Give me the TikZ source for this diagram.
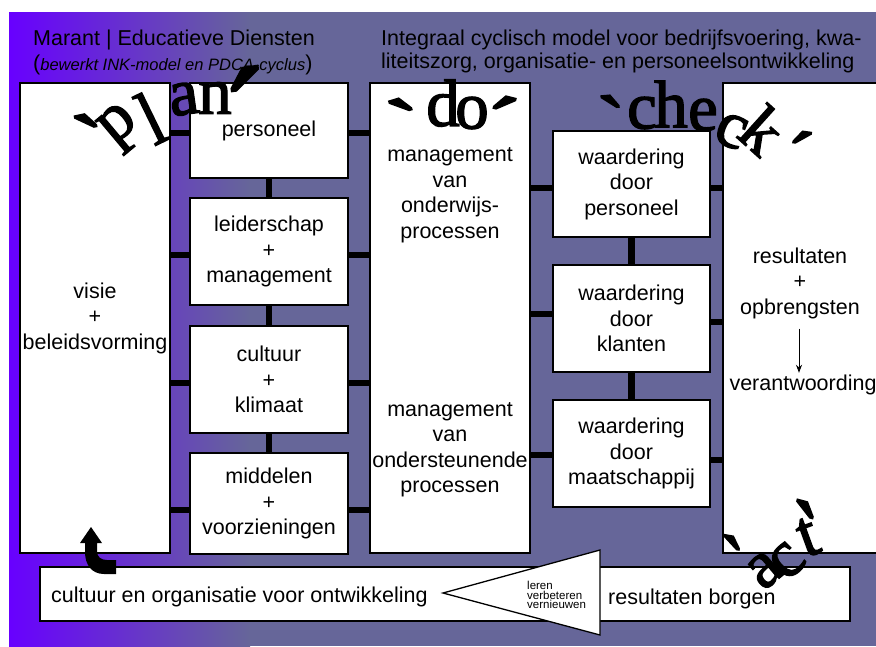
\documentclass[tikz,border=0pt]{standalone}
\usepackage{fontspec}
\setmainfont{Liberation Sans}
\newfontfamily\waf[FakeBold=2]{Liberation Serif}
\usetikzlibrary{arrows.meta,calc}
\definecolor{slate}{RGB}{102,102,153}
\definecolor{violetbg}{RGB}{104,0,255}
\newcommand\mkgrave{\raisebox{-0.59em}[0.09em][0.09em]{\char"60}}
\newcommand\mkacute{\raisebox{-0.59em}[0.09em][0.09em]{\char"B4}}
\tikzset{
 box/.style={draw=black,line width=1.3pt,fill=white,inner sep=0pt,align=center,font=\fontsize{21.5}{25.5}\selectfont},
 txt/.style={inner sep=0pt,align=center,font=\fontsize{21.5}{25.5}\selectfont},
 conn/.style={line width=6.5pt,black},
 wa/.style={inner sep=0pt,font=\fontsize{67}{67}\selectfont\waf},
 mk/.style={inner sep=0pt,font=\fontsize{64}{64}\selectfont\waf},
}
\begin{document}
\begin{tikzpicture}[x=1pt,y=-1pt]
\useasboundingbox (0,0) rectangle (876,646);
\fill[white] (0,0) rectangle (876,646);
\shade[left color=violetbg,right color=slate] (9,12) rectangle (250,646);
\fill[slate] (249.5,12) rectangle (876,646);

% headers
\node[txt,anchor=base west] (h1) at (33,45) {Marant | Educatieve Diensten};
\node[txt,anchor=base west] (h2) at (33,70.5) {(\fontsize{16.5}{20}\selectfont\itshape bewerkt INK-model en PDCA-cyclus\/\fontsize{21.5}{25.5}\selectfont\upshape)};
\node[txt,anchor=base west,align=left,font=\fontsize{21.5}{23.5}\selectfont] (h3) at (381,68.5) {Integraal cyclisch model voor bedrijfsvoering, kwa-\\liteitszorg, organisatie- en personeelsontwikkeling};

% boxes
\node[box,minimum width=150,minimum height=470] (visie) at (95,318) {visie\\+\\beleidsvorming};
\node[box,minimum width=158,minimum height=95] (pers) at (269,130.5) {personeel};
\node[box,minimum width=158,minimum height=107] (leid) at (269,251.5) {leiderschap\\+\\management};
\node[box,minimum width=158,minimum height=107] (cult) at (269,379.5) {cultuur\\+\\klimaat};
\node[box,minimum width=158,minimum height=101] (midd) at (269,503.5) {middelen\\+\\voorzieningen};
\node[box,minimum width=160,minimum height=470] (do) at (450,318) {};
\node[txt] (do1) at (450,195.5) {management\\van\\onderwijs-\\processen};
\node[txt] (do2) at (450,450) {management\\van\\ondersteunende\\processen};
\node[box,minimum width=157,minimum height=106] (wp) at (631.5,184) {waardering\\door\\personeel};
\node[box,minimum width=157,minimum height=107] (wk) at (631.5,318.5) {waardering\\door\\klanten};
\node[box,minimum width=157,minimum height=107] (wm) at (631.5,453.5) {waardering\\door\\maatschappij};
\node[box,minimum width=160,minimum height=470] (res) at (803,318) {};
\node[txt] (res1) at (800,283) {resultaten\\+\\opbrengsten};
\node[txt] (res2) at (803,385) {verantwoording};
\draw[line width=0.8pt,-{Stealth[length=8pt,width=6pt]},shorten <=10pt,shorten >=2pt] (res1.south -| 799,0) -- (res2.north -| 799,0);

% connector rows
\coordinate (r1) at (0,133);
\coordinate (r2) at (0,255);
\coordinate (r3) at (0,383);
\coordinate (r4) at (0,510);
\foreach \r/\b in {r1/pers,r2/leid,r3/cult,r4/midd}{
  \draw[conn] (visie.east |- \r) -- (\b.west |- \r);
  \draw[conn] (\b.east |- \r) -- (do.west |- \r);
}
\draw[conn] (pers.south) -- (leid.north);
\draw[conn] (leid.south) -- (cult.north);
\draw[conn] (cult.south) -- (midd.north);
\coordinate (c1l) at (0,188);
\coordinate (c2l) at (0,314);
\coordinate (c3l) at (0,455);
\coordinate (c1r) at (0,188);
\coordinate (c2r) at (0,322);
\coordinate (c3r) at (0,460);
\foreach \l/\rr/\b in {c1l/c1r/wp,c2l/c2r/wk,c3l/c3r/wm}{
  \draw[conn] (do.east |- \l) -- (\b.west |- \l);
  \draw[conn] (\b.east |- \rr) -- (res.west |- \rr);
}
\draw[conn] (wp.south) -- (wk.north);
\draw[conn] (wk.south) -- (wm.north);

% bottom bar
\node[box,minimum width=810,minimum height=54] (bar) at (445,594) {};
\node[txt,anchor=base west] (b1) at (51,602) {cultuur en organisatie voor ontwikkeling};
\node[txt,anchor=base west] (b2) at (608,604) {resultaten borgen};
\coordinate (t1) at (443,593);
\coordinate (t2) at (600,550);
\coordinate (t3) at (600,635);
\filldraw[fill=white,draw=black,line width=1.3pt] (t1) -- (t2) -- (t3) -- cycle;
\node[inner sep=0pt,align=left,anchor=west,font=\fontsize{11.5}{9.8}\selectfont] (tri) at (527,595) {leren\\verbeteren\\vernieuwen};

% curved block arrow
\fill[black] (91,527) -- (102,543) -- (97,543) -- (97,551) .. controls (97,557) and (101,560) .. (107,560) -- (116,560) -- (116,574) -- (104,574) .. controls (92,574) and (85,565) .. (85,552) -- (85,543) -- (80,543) -- cycle;

% 'plan'
\node[mk,rotate=12,scale=1.5] (pq1) at (87,124) {\mkgrave};
\node[wa,rotate=40] (pp) at (121,128) {p};
\node[wa,rotate=26,yscale=1.15] (pl) at (151,118) {l};
\node[wa,rotate=8] (pa) at (184,99) {a};
\node[wa] (pn) at (215,98) {n};
\node[mk,rotate=8,scale=2.2] (pq2) at (244,83) {\mkacute};
% 'do'
\node[mk,rotate=17,scale=1.5] (dq1) at (402,108) {\mkgrave};
\node[wa] (dd) at (443,103) {d};
\node[wa] (dn) at (472,113) {o};
\node[mk,rotate=-14,scale=1.5] (dq2) at (503,106) {\mkacute};
% 'check'
\node[mk,rotate=5,scale=1.3] (cq1) at (611,104) {\mkgrave};
\node[wa] (c1) at (642,113) {c};
\node[wa] (c2) at (671,104) {h};
\node[wa] (c3) at (703,115) {e};
\node[wa,rotate=-22] (c4) at (731,131) {c};
\node[wa,rotate=-42] (c5) at (763,130) {k};
\node[mk,rotate=-8,scale=1.3] (cq2) at (801,140) {\mkacute};
% 'act'
\node[mk,rotate=-10,scale=1.3] (aq1) at (732,545) {\mkgrave};
\node[wa,rotate=40] (a1) at (765,570) {a};
\node[wa,rotate=45] (a2) at (787,561) {c};
\node[wa,rotate=20] (a3) at (808,537) {t};
\node[mk,rotate=-15,scale=1.5] (aq2) at (805,512) {\mkgrave};
\end{tikzpicture}
\end{document}
